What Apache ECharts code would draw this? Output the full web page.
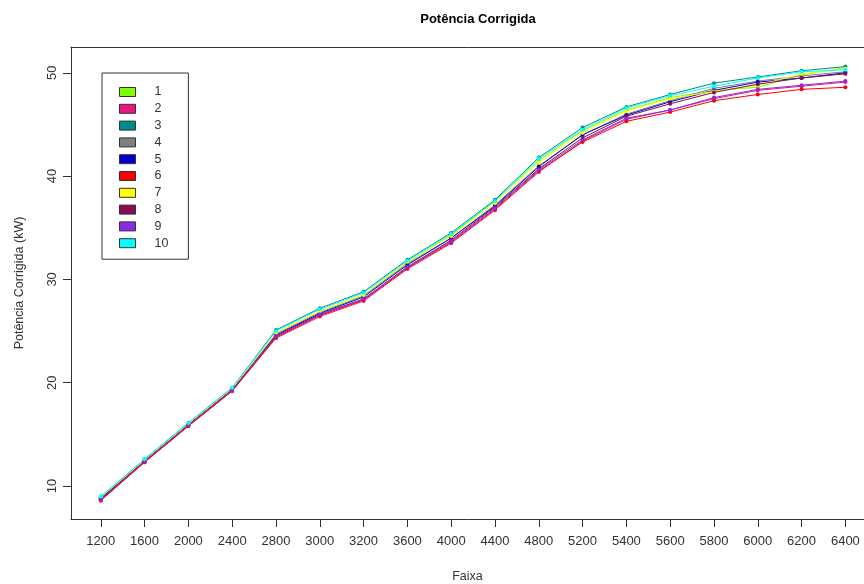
<!DOCTYPE html>
<html>
<head>
<meta charset="utf-8">
<script src="https://cdn.jsdelivr.net/npm/echarts@6/dist/echarts.min.js"></script>
<style>
  html, body { margin: 0; padding: 0; background: #ffffff; }
  #chart { width: 864px; height: 584px; }
</style>
</head>
<body>
<div id="chart"></div>
<script>
// Engine speed bands (rpm) shown on the x axis
const faixas = [1200, 1600, 2000, 2400, 2800, 3000, 3200, 3600, 4000, 4400,
                4800, 5200, 5400, 5600, 5800, 6000, 6200, 6400];

// Corrected power (kW) for each of the ten runs
const run1  = [8.9, 12.5, 16.0, 19.4, 24.8, 26.9, 28.5, 31.6, 34.3, 37.6, 41.5, 44.4, 46.4, 47.6, 48.3, 48.6, 49.8, 50.5];
const run2  = [8.6, 12.3, 15.8, 19.2, 24.3, 26.4, 27.9, 31.0, 33.5, 36.7, 40.4, 43.4, 45.5, 46.4, 47.5, 48.3, 48.7, 49.1];
const run3  = [8.9, 12.6, 16.1, 19.5, 25.1, 27.2, 28.8, 31.9, 34.5, 37.7, 41.8, 44.7, 46.7, 47.9, 49.0, 49.6, 50.2, 50.6];
const run4  = [8.8, 12.5, 16.0, 19.4, 24.7, 26.8, 28.4, 31.5, 34.0, 37.2, 41.0, 44.0, 46.0, 47.3, 48.5, 49.2, 49.7, 50.1];
const run5  = [8.8, 12.4, 15.9, 19.3, 24.6, 26.7, 28.3, 31.4, 34.0, 37.1, 40.9, 44.0, 45.9, 47.2, 48.3, 49.1, 49.5, 50.0];
const run6  = [8.6, 12.3, 15.8, 19.2, 24.4, 26.5, 28.0, 31.1, 33.6, 36.8, 40.5, 43.3, 45.3, 46.2, 47.3, 47.9, 48.4, 48.6];
const run7  = [8.9, 12.5, 16.0, 19.4, 24.8, 26.9, 28.5, 31.7, 34.2, 37.4, 41.3, 44.2, 46.3, 47.5, 48.2, 48.8, 49.9, 50.4];
const run8  = [8.7, 12.4, 15.9, 19.3, 24.5, 26.6, 28.1, 31.2, 33.8, 37.0, 40.7, 43.7, 45.8, 47.0, 48.1, 48.9, 49.5, 49.9];
const run9  = [8.7, 12.4, 15.9, 19.3, 24.5, 26.6, 28.1, 31.2, 33.7, 36.9, 40.6, 43.5, 45.6, 46.4, 47.6, 48.4, 48.8, 49.2];
const run10 = [9.0, 12.6, 16.1, 19.5, 25.0, 27.1, 28.7, 31.8, 34.4, 37.6, 41.7, 44.5, 46.6, 47.8, 48.7, 49.5, 50.1, 50.3];

const runNames = ['1', '2', '3', '4', '5', '6', '7', '8', '9', '10'];
const runData = [run1, run2, run3, run4, run5, run6, run7, run8, run9, run10];
const runColors = ['#7fff00', '#e8187f', '#008b8b', '#808080', '#0000cd',
                   '#ff0000', '#ffff00', '#8b0a50', '#8a2be2', '#00ffff'];

const yTicks = [10, 20, 30, 40, 50];
const xIdx = faixas.map((_, i) => i);

const font = 'Liberation Sans, Arial, sans-serif';
const axisColor = '#333';
const textColor = '#333';

// x range padded around the first and last band, box open on the right
const xMin = -0.68;
const xMax = 17.425;

const series = runData.map((vals, k) => ({
  name: runNames[k],
  type: 'line',
  xAxisIndex: 0,
  data: vals.map((v, i) => [i, v]),
  symbol: 'circle',
  symbolSize: 4,
  color: runColors[k],
  lineStyle: { width: 1, color: runColors[k] },
  itemStyle: { color: runColors[k] },
  emphasis: { disabled: true }
}));

const chart = echarts.init(document.getElementById('chart'), null, { renderer: 'canvas' });
chart.setOption({
  animation: false,
  backgroundColor: '#ffffff',
  title: {
    text: 'Potência Corrigida',
    left: 473,
    top: 8,
    textAlign: 'center',
    textStyle: { fontFamily: font, fontSize: 13, fontWeight: 'bold', color: '#000' }
  },
  grid: { left: 71, top: 47, right: 0, bottom: 65, show: false, outerBoundsMode: 'none' },
  legend: {
    orient: 'vertical',
    left: 102,
    top: 73,
    padding: [12, 20, 9, 17],
    borderColor: axisColor,
    borderWidth: 1,
    itemWidth: 16,
    itemHeight: 9,
    itemGap: 2.8,
    icon: 'rect',
    itemStyle: { borderColor: '#333', borderWidth: 1 },
    textStyle: { fontFamily: font, fontSize: 12.5, color: textColor, lineHeight: 14, padding: [0, 0, 0, 14] },
    data: runNames
  },
  xAxis: [
    {
      type: 'value',
      position: 'bottom',
      min: xMin,
      max: xMax,
      name: 'Faixa',
      nameLocation: 'middle',
      nameGap: 51,
      nameTextStyle: { fontFamily: font, fontSize: 12.5, color: textColor },
      axisLine: { show: true, onZero: false, lineStyle: { color: axisColor, width: 1 } },
      splitLine: { show: false },
      axisTick: { show: true, inside: false, length: 8, customValues: xIdx, lineStyle: { color: axisColor } },
      axisLabel: {
        customValues: xIdx,
        margin: 16,
        formatter: v => String(faixas[Math.round(v)]),
        fontFamily: font, fontSize: 13, color: textColor
      }
    },
    {
      // top edge of the plot frame
      type: 'value',
      position: 'top',
      min: xMin,
      max: xMax,
      axisLine: { show: true, onZero: false, lineStyle: { color: axisColor, width: 1 } },
      axisTick: { show: false },
      axisLabel: { show: false },
      splitLine: { show: false }
    }
  ],
  yAxis: {
    type: 'value',
    min: 6.8,
    max: 52.5,
    name: 'Potência Corrigida (kW)',
    nameLocation: 'middle',
    nameRotate: 90,
    nameGap: 45,
    nameTextStyle: { fontFamily: font, fontSize: 12.5, color: textColor },
    axisLine: { show: true, onZero: false, lineStyle: { color: axisColor, width: 1 } },
    splitLine: { show: false },
    axisTick: { show: true, inside: false, length: 8, customValues: yTicks, lineStyle: { color: axisColor } },
    axisLabel: {
      customValues: yTicks,
      rotate: 90,
      margin: 12,
      fontFamily: font, fontSize: 13, color: textColor
    }
  },
  series: series
});
</script>
</body>
</html>
